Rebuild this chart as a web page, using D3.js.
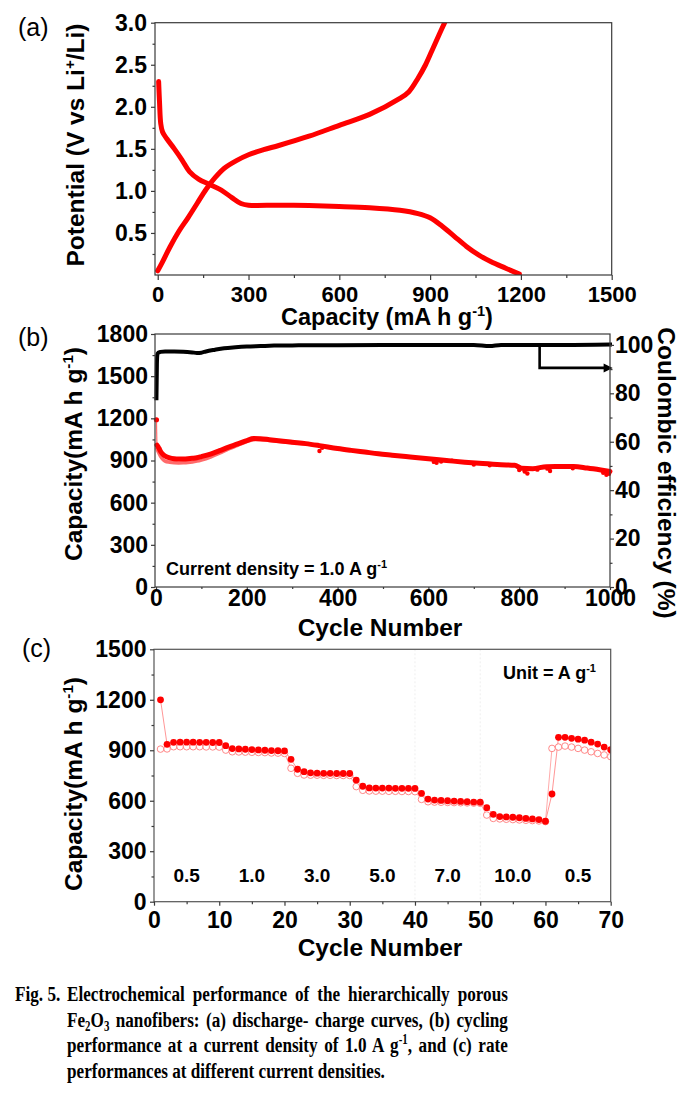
<!DOCTYPE html>
<html><head><meta charset="utf-8">
<script src="https://cdn.jsdelivr.net/npm/d3@7"></script>
<style>
body{margin:0;background:#fff}
svg{display:block}
.lab{font-family:"Liberation Sans",Arial,sans-serif;font-weight:bold;fill:#000}
.cap{font-family:"Liberation Serif","Times New Roman",serif;font-weight:bold;fill:#000}
</style>
</head><body>
<svg id="fig" width="697" height="1098"></svg>
<script>
// ---------- Panel (a): discharge / charge profiles [capacity, potential] ----------
const dischargeCap = [3,6,10,16,30,55,80,105,135,170,210,245,275,300,400,500,600,700,800,860,900,940,980,1020,1060,1100,1150,1195];
const dischargeV   = [2.30,2.05,1.80,1.70,1.62,1.50,1.37,1.23,1.14,1.08,1.01,0.92,0.85,0.83,0.83,0.825,0.815,0.80,0.77,0.73,0.68,0.58,0.46,0.34,0.24,0.16,0.08,0.01];
const chargeCap = [0,15,40,70,100,130,160,190,220,260,300,350,400,500,600,700,800,830,860,885,910,930,948];
const chargeV   = [0.05,0.15,0.33,0.52,0.68,0.85,1.02,1.16,1.27,1.36,1.43,1.49,1.54,1.65,1.78,1.91,2.10,2.18,2.34,2.50,2.70,2.86,3.0];
const aXTicks = [0,300,600,900,1200,1500];
const aYTicks = [0.5,1.0,1.5,2.0,2.5,3.0];

// ---------- Panel (b): long cycling ----------
const ceCycles = [1,2,3,5,10,20,40,60,80,90,100,110,130,150,175,200,230,260,300,350,400,500,600,700,735,760,800,900,1000];
const ceValues = [78,92,96,96.8,97.1,97.3,97.3,97.2,96.9,96.7,96.8,97.3,98.0,98.6,99.0,99.3,99.5,99.7,99.8,99.9,99.9,100,100,100,99.5,100,100,100,100.2];
const capCycles    = [1,2,4,7,10,15,20,30,40,50,60,70,80,90,100,120,140,160,180,200,215,230,250,280,300,330,360,400,430,460,490,520,560,600,640,680,720,760,790,805,830,860,890,920,950,980,1000];
const capDischarge = [1190,1010,1000,985,965,945,932,918,912,910,911,913,916,920,928,946,970,995,1018,1042,1056,1055,1048,1037,1030,1020,1006,985,972,960,948,938,925,912,900,888,878,870,866,845,842,856,857,858,846,832,822];
const capChargeCycles = [2,3,6,10,15,20,30,40,50,60,70,80,90,100,120,140,160,180,200,220,250,300];
const capCharge       = [985,975,955,930,908,896,888,884,883,884,886,890,896,904,925,952,982,1008,1035,1050,1042,1027];
const capOutCycles = [360,366,612,618,628,652,700,735,800,812,818,840,862,868,918,985,992,998];
const capOutValues = [968,990,890,884,892,898,872,866,832,822,808,835,842,825,845,812,798,805];
const bXTicks = [0,200,400,600,800,1000];
const bYTicks = [0,300,600,900,1200,1500,1800];
const bRTicks = [0,20,40,60,80,100];

// ---------- Panel (c): rate performance ----------
const rateCycles = d3.range(1,71);
const rateDischarge = [1200,935,947,948,948,948,947,947,946,946,
  927,910,908,906,904,902,900,898,897,896,
  846,787,773,766,764,763,763,762,762,762,
  723,686,676,675,675,675,674,674,674,673,
  644,610,604,602,600,598,596,594,592,591,
  559,519,506,504,502,499,495,492,488,478,
  640,977,977,971,966,960,948,937,919,903];
const rateCharge = [907,908,921,921,921,921,921,920,920,919,
  901,891,890,889,888,887,886,884,883,881,
  793,763,753,752,752,751,751,750,750,750,
  684,662,658,657,657,656,656,655,655,654,
  608,594,592,591,590,589,588,587,586,585,
  515,495,492,490,488,486,484,482,480,476,
  911,919,925,919,911,901,891,881,872,862];
const rateLabels = ["0.5","1.0","3.0","5.0","7.0","10.0","0.5"];
const rateLabelCycles = [5,15,25,35,45,55,65];
const cXTicks = [0,10,20,30,40,50,60,70];
const cYTicks = [0,300,600,900,1200,1500];

// ================= drawing =================
const svg = d3.select("#fig");
const RED = "#ff0000";
const FRAME = "#3a3a3a";

function styleAxis(g, fs){
  g.select(".domain").remove();
  g.selectAll(".tick line").attr("stroke", FRAME).attr("stroke-width", 1.2);
  g.selectAll(".tick text").attr("class","lab").style("font-size", fs+"px");
}
function frame(x0,y0,x1,y1,color){
  svg.append("rect").attr("x",x0).attr("y",y0).attr("width",x1-x0).attr("height",y1-y0)
    .attr("fill","none").attr("stroke",color||FRAME).attr("stroke-width",1.2);
}
function minorTicks(axisFn, scale, vals, len, tr){
  const g = svg.append("g").attr("transform",tr)
    .call(axisFn(scale).tickValues(vals).tickSize(len).tickFormat("").tickSizeOuter(0));
  g.select(".domain").remove();
  g.selectAll(".tick line").attr("stroke",FRAME).attr("stroke-width",1.2);
}
function title(x,y,rot,parts,fs){
  const t = svg.append("text").attr("class","lab").style("font-size",fs+"px")
    .attr("text-anchor","middle").attr("transform",`translate(${x},${y}) rotate(${rot})`);
  parts.forEach(p=>{
    const s = t.append("tspan").text(p[0]);
    if(p[1]==="sup"){ s.style("font-size",(fs*0.62)+"px").attr("dy",-fs*0.38); }
    if(p[1]==="back"){ s.attr("dy",fs*0.38); }
  });
  return t;
}
function panelLabel(x,y,s){
  svg.append("text").attr("x",x).attr("y",y).text(s)
    .style("font-family",'"Liberation Sans",Arial,sans-serif').style("font-size","25px").attr("fill","#000");
}
const FS = 23, TFS = 24.5;

// ---------- (a) ----------
{
  const x = d3.scaleLinear().domain([-9,1500]).range([155,611.7]);
  const y = d3.scaleLinear().domain([0,3]).range([275,22.7]);
  svg.append("defs").append("clipPath").attr("id","clipA").append("rect")
    .attr("x",155).attr("y",22.7).attr("width",611.7-155).attr("height",275-22.7);
  const ga = svg.append("g").attr("clip-path","url(#clipA)");
  const line = d3.line().x(d=>x(d[0])).y(d=>y(d[1])).curve(d3.curveCatmullRom.alpha(0.5));
  ga.append("path").attr("d", line(dischargeCap.map((c,i)=>[c,dischargeV[i]])))
    .attr("fill","none").attr("stroke",RED).attr("stroke-width",5).attr("stroke-linecap","round").attr("stroke-linejoin","round");
  ga.append("path").attr("d", line(chargeCap.map((c,i)=>[c,chargeV[i]])))
    .attr("fill","none").attr("stroke",RED).attr("stroke-width",5).attr("stroke-linecap","round").attr("stroke-linejoin","round");
  frame(155,22.7,611.7,275);
  const gx = svg.append("g").attr("transform","translate(0,275)")
    .call(d3.axisBottom(x).tickValues(aXTicks).tickSize(5).tickPadding(6).tickFormat(d3.format("d")));
  styleAxis(gx,22);
  minorTicks(d3.axisBottom,x,[150,450,750,1050,1350],3,"translate(0,275)");
  const gy = svg.append("g").attr("transform","translate(155,0)")
    .call(d3.axisLeft(y).tickValues(aYTicks).tickSize(4).tickPadding(4).tickFormat(d3.format(".1f")));
  styleAxis(gy,FS);
  minorTicks(d3.axisLeft,y,[0.25,0.75,1.25,1.75,2.25,2.75],2.5,"translate(155,0)");
  title(387,325,0,[["Capacity (mA h g"],["-1","sup"],[")","back"]],23.5);
  title(84,145,-90,[["Potential (V vs Li"],["+","sup"],["/Li)","back"]],TFS);
  panelLabel(18,35.5,"(a)");
}

// ---------- (b) ----------
{
  const x = d3.scaleLinear().domain([-2.2,1000]).range([155,610]);
  const y = d3.scaleLinear().domain([0,1800]).range([587,334]);
  const yr = d3.scaleLinear().domain([0,104.5]).range([587,334]);
  const line = d3.line().x(d=>x(d[0])).y(d=>y(d[1])).curve(d3.curveMonotoneX);
  const liner = d3.line().x(d=>x(d[0])).y(d=>yr(d[1])).curve(d3.curveMonotoneX);
  // charge capacity (lighter)
  svg.append("path").attr("d", line(capChargeCycles.map((c,i)=>[c,capCharge[i]])))
    .attr("fill","none").attr("stroke","#ff6a6a").attr("stroke-width",3.5).attr("stroke-linejoin","round").attr("stroke-linecap","round");
  // first cycle: thin connector
  svg.append("line").attr("x1",x(capCycles[0])).attr("y1",y(capDischarge[0]))
    .attr("x2",x(capCycles[1])).attr("y2",y(capDischarge[1])).attr("stroke","#ff6b6b").attr("stroke-width",1.2);
  svg.append("circle").attr("cx",x(capCycles[0])).attr("cy",y(capDischarge[0])).attr("r",2.6).attr("fill",RED);
  const dis = capCycles.map((c,i)=>[c,capDischarge[i]]).slice(1);
  svg.append("path").attr("d", line(dis))
    .attr("fill","none").attr("stroke",RED).attr("stroke-width",5).attr("stroke-linejoin","round").attr("stroke-linecap","round");
  svg.selectAll(".outb").data(capOutCycles.map((c,i)=>[c,capOutValues[i]])).enter().append("circle")
    .attr("cx",d=>x(d[0])).attr("cy",d=>y(d[1])).attr("r",2.2).attr("fill",RED);
  // coulombic efficiency
  svg.append("path").attr("d", liner(ceCycles.map((c,i)=>[c,ceValues[i]])))
    .attr("fill","none").attr("stroke","#000").attr("stroke-width",4).attr("stroke-linejoin","round").attr("stroke-linecap","square");
  // arrow pointing to right axis
  const ax = x(845), ay0 = yr(99.5), ay1 = yr(90.5);
  svg.append("path").attr("d",`M${ax},${ay0} L${ax},${ay1} L${x(990)},${ay1}`)
    .attr("fill","none").attr("stroke","#000").attr("stroke-width",2.6);
  svg.append("path").attr("d",`M${x(1006)},${ay1} L${x(986)},${ay1-4.5} L${x(986)},${ay1+4.5} Z`).attr("fill","#000");
  frame(155,334,610,587);
  const gx = svg.append("g").attr("transform","translate(0,587)")
    .call(d3.axisBottom(x).tickValues(bXTicks).tickSize(3).tickPadding(0).tickFormat(d3.format("d")));
  styleAxis(gx,FS);
  minorTicks(d3.axisBottom,x,[100,300,500,700,900],2,"translate(0,587)");
  const gy = svg.append("g").attr("transform","translate(155,0)")
    .call(d3.axisLeft(y).tickValues(bYTicks).tickSize(4).tickPadding(3).tickFormat(d3.format("d")));
  styleAxis(gy,FS);
  minorTicks(d3.axisLeft,y,[150,450,750,1050,1350,1650],2.5,"translate(155,0)");
  const gr = svg.append("g").attr("transform","translate(610,0)")
    .call(d3.axisRight(yr).tickValues(bRTicks).tickSize(4).tickPadding(1).tickFormat(d3.format("d")));
  styleAxis(gr,FS);
  minorTicks(d3.axisRight,yr,[10,30,50,70,90],2.5,"translate(610,0)");
  svg.append("text").attr("class","lab").attr("x",166).attr("y",575).style("font-size","18px")
    .text("Current density = 1.0 A g").append("tspan").text("-1").style("font-size","11px").attr("dy",-7);
  title(380,636,0,[["Cycle Number"]],TFS);
  title(82,454,-90,[["Capacity(mA h g"],["-1","sup"],[")","back"]],TFS);
  title(658,473,90,[["Coulombic efficiency (%)"]],TFS);
  panelLabel(18,346,"(b)");
}

// ---------- (c) ----------
{
  const x = d3.scaleLinear().domain([0,70]).range([154,610.7]);
  const y = d3.scaleLinear().domain([0,1500]).range([901.7,649.3]);
  [40,50].forEach(v=>svg.append("line").attr("x1",x(v)).attr("x2",x(v)).attr("y1",649.3).attr("y2",901.7)
    .attr("stroke","#eeeeee").attr("stroke-width",1).attr("stroke-dasharray","2,2"));
  svg.append("defs").append("clipPath").attr("id","clipC").append("rect")
    .attr("x",154).attr("y",649.3).attr("width",610.7-154).attr("height",901.7-649.3);
  const gc = svg.append("g").attr("clip-path","url(#clipC)");
  const line = d3.line().x(d=>x(d[0])).y(d=>y(d[1]));
  const chg = rateCycles.map((c,i)=>[c,rateCharge[i]]);
  const dis = rateCycles.map((c,i)=>[c,rateDischarge[i]]);
  gc.append("path").attr("d",line(chg)).attr("fill","none").attr("stroke","#ffa0a0").attr("stroke-width",0.9);
  gc.append("path").attr("d",line(dis)).attr("fill","none").attr("stroke","#ff8a8a").attr("stroke-width",0.9);
  gc.selectAll(".oc").data(chg).enter().append("circle")
    .attr("cx",d=>x(d[0])).attr("cy",d=>y(d[1])).attr("r",3.3)
    .attr("fill","#fff").attr("stroke","#ff7a7a").attr("stroke-width",0.9);
  gc.selectAll(".fc").data(dis).enter().append("circle")
    .attr("cx",d=>x(d[0])).attr("cy",d=>y(d[1])).attr("r",3.4).attr("fill",RED);
  frame(154,649.3,610.7,901.7,"#555");
  const gx = svg.append("g").attr("transform","translate(0,901.7)")
    .call(d3.axisBottom(x).tickValues(cXTicks).tickSize(4).tickPadding(6).tickFormat(d3.format("d")));
  styleAxis(gx,FS);
  minorTicks(d3.axisBottom,x,[5,15,25,35,45,55,65],2.5,"translate(0,901.7)");
  const gy = svg.append("g").attr("transform","translate(154,0)")
    .call(d3.axisLeft(y).tickValues(cYTicks).tickSize(4).tickPadding(3.5).tickFormat(d3.format("d")));
  styleAxis(gy,FS);
  minorTicks(d3.axisLeft,y,[150,450,750,1050,1350],2.5,"translate(154,0)");
  rateLabels.forEach((s,i)=>svg.append("text").attr("class","lab").attr("text-anchor","middle")
    .attr("x",x(rateLabelCycles[i])).attr("y",881.7).style("font-size","19px").text(s));
  svg.append("text").attr("class","lab").attr("x",503).attr("y",679).style("font-size","18px")
    .text("Unit = A g").append("tspan").text("-1").style("font-size","11px").attr("dy",-7);
  title(380,956,0,[["Cycle Number"]],TFS);
  title(82,784,-90,[["Capacity(mA h g"],["-1","sup"],[")","back"]],TFS);
  panelLabel(22,657,"(c)");
}

// ---------- caption ----------
{
  const CFS = 22;
  function mk(parts){
    const g = svg.append("g");
    const t = g.append("text").attr("class","cap").style("font-size",CFS+"px");
    let shift = 0;
    parts.forEach(p=>{
      const s = t.append("tspan").text(p[0]);
      let want = 0;
      if(p[1]==="sub"){ want = 4; s.style("font-size","14px"); }
      if(p[1]==="sup"){ want = -8; s.style("font-size","14px"); }
      s.attr("dy", want - shift); shift = want;
    });
    return {g,t};
  }
  const L4 = mk([["performances at different current densities."]]);
  const sx = 318 / L4.t.node().getComputedTextLength();
  function place(o, x, y, target){
    if(target){
      const txt = o.t.text();
      const spaces = (txt.match(/ /g)||[]).length;
      const len = o.t.node().getComputedTextLength();
      o.t.style("word-spacing", ((target/sx - len)/spaces) + "px");
    }
    o.g.attr("transform",`translate(${x},${y}) scale(${sx},1)`);
  }
  place(L4,67,1078,null);
  place(mk([["Fig. 5."]]),15,1001,null);
  place(mk([["Electrochemical performance of the hierarchically porous"]]),67,1001,441);
  place(mk([["Fe"],["2","sub"],["O"],["3","sub"],[" nanofibers: (a) discharge- charge curves, (b) cycling"]]),67,1026.5,441);
  place(mk([["performance at a current density of 1.0 A g"],["-1","sup"],[", and (c) rate"]]),67,1052,441);
}
</script>
</body></html>
